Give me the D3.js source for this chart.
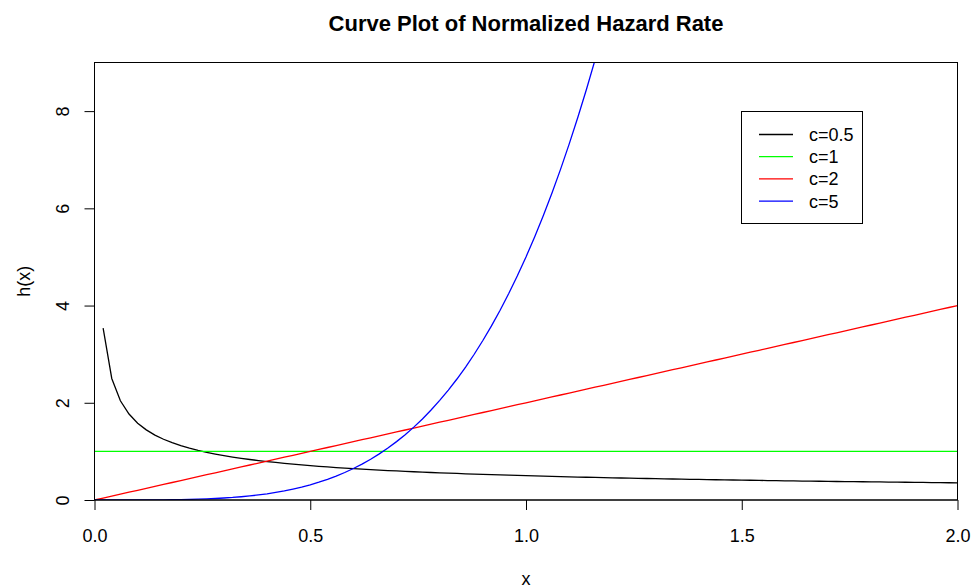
<!DOCTYPE html>
<html>
<head>
<meta charset="utf-8">
<script src="https://cdn.jsdelivr.net/npm/d3@7"></script>
<style>
  html, body { margin: 0; padding: 0; background: #fff; }
  svg { display: block; }
  text { font-family: "Liberation Sans", Arial, sans-serif; fill: #000; }
</style>
</head>
<body>
<svg id="chart" width="971" height="588"></svg>
<script>
// Grid of x values (step 0.02 over [0, 2])
const xs = d3.range(101).map(i => +(i * 0.02).toFixed(2));

// h(x) for c = 0.5 (undefined at x = 0)
const hC05 = [null,
  3.536, 2.500, 2.041, 1.768, 1.581, 1.443, 1.336, 1.250, 1.179, 1.118,
  1.066, 1.021, 0.981, 0.945, 0.913, 0.884, 0.857, 0.833, 0.811, 0.791,
  0.772, 0.754, 0.737, 0.722, 0.707, 0.693, 0.680, 0.668, 0.657, 0.645,
  0.635, 0.625, 0.615, 0.606, 0.598, 0.589, 0.581, 0.574, 0.566, 0.559,
  0.552, 0.546, 0.539, 0.533, 0.527, 0.521, 0.516, 0.510, 0.505, 0.500,
  0.495, 0.490, 0.486, 0.481, 0.477, 0.472, 0.468, 0.464, 0.460, 0.456,
  0.453, 0.449, 0.445, 0.442, 0.439, 0.435, 0.432, 0.429, 0.426, 0.423,
  0.420, 0.417, 0.414, 0.411, 0.408, 0.406, 0.403, 0.400, 0.398, 0.395,
  0.393, 0.390, 0.388, 0.386, 0.383, 0.381, 0.379, 0.377, 0.375, 0.373,
  0.371, 0.369, 0.367, 0.365, 0.363, 0.361, 0.359, 0.357, 0.355, 0.354];

// h(x) for c = 1
const hC1 = [
  1, 1, 1, 1, 1, 1, 1, 1, 1, 1, 1, 1, 1, 1, 1, 1, 1, 1, 1, 1, 1,
  1, 1, 1, 1, 1, 1, 1, 1, 1, 1, 1, 1, 1, 1, 1, 1, 1, 1, 1, 1,
  1, 1, 1, 1, 1, 1, 1, 1, 1, 1, 1, 1, 1, 1, 1, 1, 1, 1, 1, 1,
  1, 1, 1, 1, 1, 1, 1, 1, 1, 1, 1, 1, 1, 1, 1, 1, 1, 1, 1, 1,
  1, 1, 1, 1, 1, 1, 1, 1, 1, 1, 1, 1, 1, 1, 1, 1, 1, 1, 1, 1];

// h(x) for c = 2
const hC2 = [0.00,
  0.04, 0.08, 0.12, 0.16, 0.20, 0.24, 0.28, 0.32, 0.36, 0.40,
  0.44, 0.48, 0.52, 0.56, 0.60, 0.64, 0.68, 0.72, 0.76, 0.80,
  0.84, 0.88, 0.92, 0.96, 1.00, 1.04, 1.08, 1.12, 1.16, 1.20,
  1.24, 1.28, 1.32, 1.36, 1.40, 1.44, 1.48, 1.52, 1.56, 1.60,
  1.64, 1.68, 1.72, 1.76, 1.80, 1.84, 1.88, 1.92, 1.96, 2.00,
  2.04, 2.08, 2.12, 2.16, 2.20, 2.24, 2.28, 2.32, 2.36, 2.40,
  2.44, 2.48, 2.52, 2.56, 2.60, 2.64, 2.68, 2.72, 2.76, 2.80,
  2.84, 2.88, 2.92, 2.96, 3.00, 3.04, 3.08, 3.12, 3.16, 3.20,
  3.24, 3.28, 3.32, 3.36, 3.40, 3.44, 3.48, 3.52, 3.56, 3.60,
  3.64, 3.68, 3.72, 3.76, 3.80, 3.84, 3.88, 3.92, 3.96, 4.00];

// h(x) for c = 5 (runs off the top of the panel past x = 1.16)
const hC5 = [0.000,
  0.000, 0.000, 0.000, 0.000, 0.001, 0.001, 0.002, 0.003, 0.005, 0.008,
  0.012, 0.017, 0.023, 0.031, 0.041, 0.052, 0.067, 0.084, 0.104, 0.128,
  0.156, 0.187, 0.224, 0.265, 0.313, 0.366, 0.425, 0.492, 0.566, 0.648,
  0.739, 0.839, 0.949, 1.069, 1.201, 1.344, 1.499, 1.668, 1.851, 2.048,
  2.261, 2.489, 2.735, 2.998, 3.281, 3.582, 3.904, 4.247, 4.612, 5.000,
  5.412, 5.849, 6.312, 6.802, 7.321, 7.868, 8.445, 9.053, 9.694, 10.368];

const seriesNames = ["c=0.5", "c=1", "c=2", "c=5"];
const seriesValues = [hC05, hC1, hC2, hC5];
const seriesColors = ["#000000", "#00ff00", "#ff0000", "#0000ff"];

const xTicks = [0, 0.5, 1.0, 1.5, 2.0];
const yTicks = [0, 2, 4, 6, 8];

const titleText = "Curve Plot of Normalized Hazard Rate";
const xLabel = "x";
const yLabel = "h(x)";

// Panel geometry
const panel = { left: 94.5, right: 957.5, top: 62.5, bottom: 500 };
const fontSize = "18px";

const svg = d3.select("#chart");

const x = d3.scaleLinear().domain([0, 2]).range([panel.left, panel.right]);
const y = d3.scaleLinear().domain([0, 9]).range([panel.bottom, panel.top]);

svg.append("defs").append("clipPath").attr("id", "panel-clip")
  .append("rect")
  .attr("x", panel.left).attr("y", panel.top)
  .attr("width", panel.right - panel.left)
  .attr("height", panel.bottom - panel.top);

// Curves
const line = d3.line()
  .defined(d => d[1] !== null)
  .x(d => x(d[0]))
  .y(d => y(d[1]));

const curves = svg.append("g").attr("clip-path", "url(#panel-clip)");
seriesValues.forEach((vals, i) => {
  const pts = vals.map((v, j) => [xs[j], v]);
  curves.append("path")
    .datum(pts)
    .attr("fill", "none")
    .attr("stroke", seriesColors[i])
    .attr("stroke-width", 1.3)
    .attr("d", line);
});

// Frame
svg.append("rect")
  .attr("x", panel.left).attr("y", panel.top)
  .attr("width", panel.right - panel.left)
  .attr("height", panel.bottom - panel.top)
  .attr("fill", "none").attr("stroke", "#000").attr("stroke-width", 1);

// Axes
const xAxis = d3.axisBottom(x).tickValues(xTicks).tickFormat(d3.format(".1f"))
  .tickSizeInner(10).tickSizeOuter(0).tickPadding(19);
const gx = svg.append("g").attr("transform", `translate(0,${panel.bottom})`).call(xAxis);
gx.select(".domain").attr("d", `M${x(0)},0H${x(2)}`);

const yAxis = d3.axisLeft(y).tickValues(yTicks).tickFormat(d3.format("d"))
  .tickSizeInner(10).tickSizeOuter(0).tickPadding(0);
const gy = svg.append("g").attr("transform", `translate(${panel.left},0)`).call(yAxis);
gy.select(".domain").attr("d", `M0,${y(0)}V${y(8)}`);

[gx, gy].forEach(g => {
  g.selectAll("path, line").attr("stroke", "#000").attr("stroke-width", 1);
  g.selectAll("text").style("font-family", '"Liberation Sans", Arial, sans-serif')
    .style("font-size", fontSize).attr("fill", "#000");
});

gy.selectAll(".tick text")
  .attr("x", null).attr("dy", null)
  .attr("text-anchor", "middle")
  .attr("transform", "translate(-26,0) rotate(-90)");

// Titles
svg.append("text")
  .attr("x", (panel.left + panel.right) / 2).attr("y", 31)
  .attr("text-anchor", "middle")
  .style("font-size", "22px").style("font-weight", "bold")
  .text(titleText);

svg.append("text")
  .attr("x", (panel.left + panel.right) / 2).attr("y", 585)
  .attr("text-anchor", "middle")
  .style("font-size", fontSize)
  .text(xLabel);

svg.append("text")
  .attr("transform", `translate(30,${(panel.top + panel.bottom) / 2}) rotate(-90)`)
  .attr("text-anchor", "middle")
  .style("font-size", fontSize)
  .text(yLabel);

// Legend
const legend = { left: 741.5, top: 111.5, width: 121, height: 112, rowY0: 134.5, rowStep: 22.2 };
const lg = svg.append("g");
lg.append("rect")
  .attr("x", legend.left).attr("y", legend.top)
  .attr("width", legend.width).attr("height", legend.height)
  .attr("fill", "#fff").attr("stroke", "#000").attr("stroke-width", 1);

seriesNames.forEach((name, i) => {
  const yy = legend.rowY0 + i * legend.rowStep;
  lg.append("line")
    .attr("x1", 759).attr("x2", 793)
    .attr("y1", yy).attr("y2", yy)
    .attr("stroke", seriesColors[i]).attr("stroke-width", 1.3);
  lg.append("text")
    .attr("x", 809).attr("y", yy).attr("dy", "0.36em")
    .style("font-size", fontSize)
    .text(name);
});
</script>
</body>
</html>
